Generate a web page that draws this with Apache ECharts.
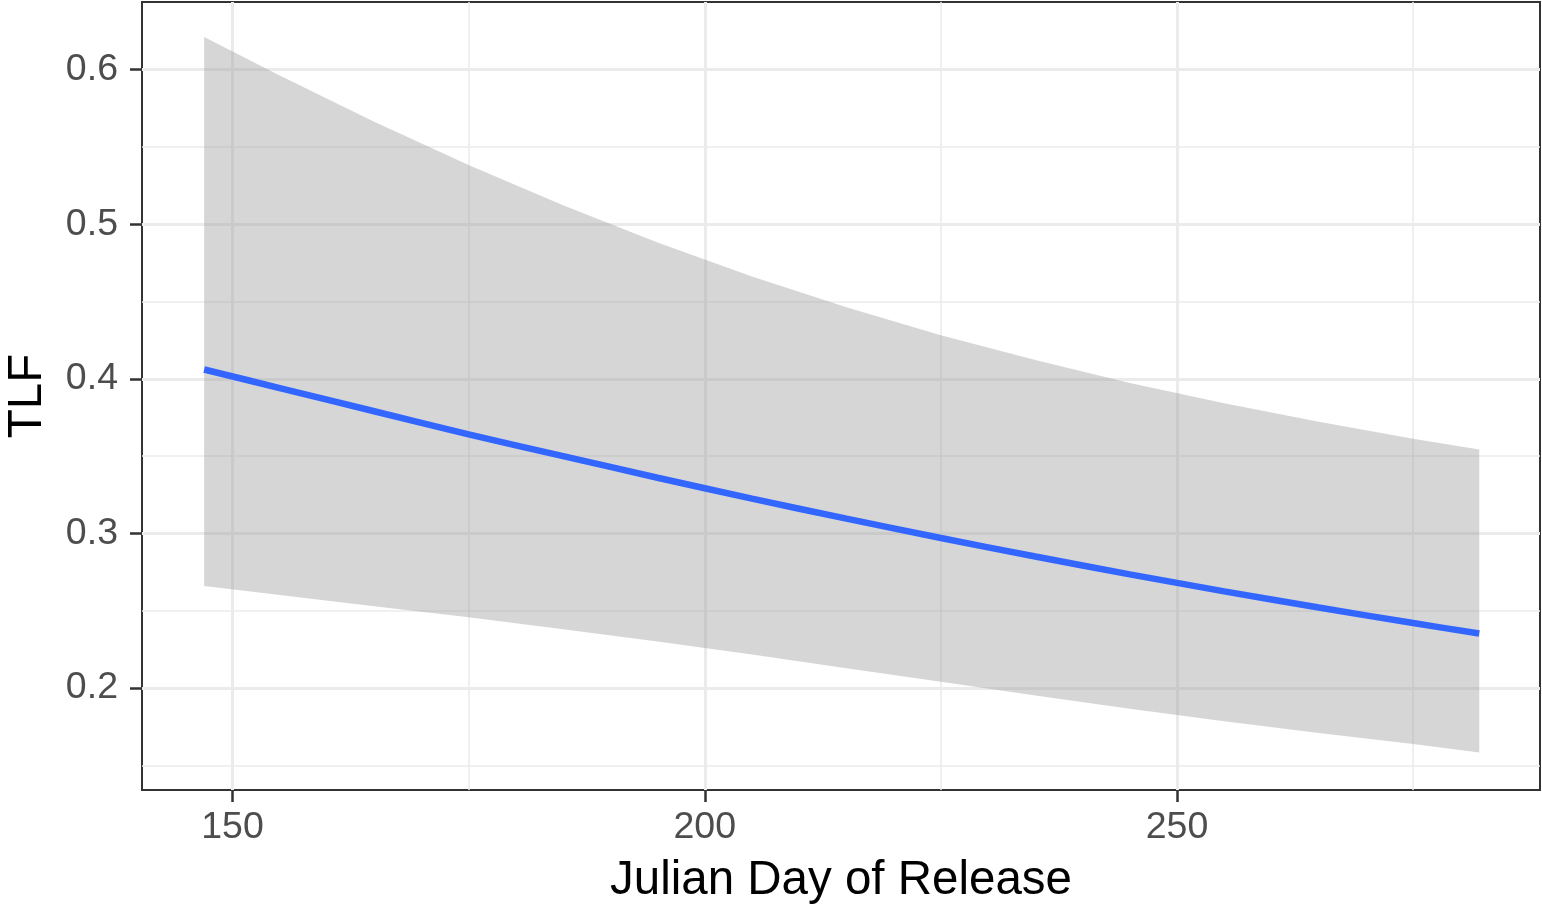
<!DOCTYPE html>
<html>
<head>
<meta charset="utf-8">
<script src="https://cdn.jsdelivr.net/npm/echarts@6/dist/echarts.min.js"></script>
<style>
html,body{margin:0;padding:0;background:#fff;}
#chart{width:1542px;height:907px;}
</style>
</head>
<body>
<div id="chart"></div>
<script>
// Julian day values where the fit and band were read
const days = [147, 155, 165, 175, 185, 195, 205, 215, 225, 235, 245, 255, 265, 275, 282];
// Fitted TLF (blue line)
const fitTLF = [0.406, 0.394, 0.379, 0.364, 0.350, 0.336, 0.3225, 0.3095, 0.297, 0.285, 0.2735, 0.2625, 0.252, 0.242, 0.2352];
// Confidence band upper and lower bounds
const upperTLF = [0.621, 0.5962, 0.5662, 0.5382, 0.5122, 0.4882, 0.4662, 0.4462, 0.4282, 0.4122, 0.3972, 0.3842, 0.3722, 0.3612, 0.3542];
const lowerTLF = [0.266, 0.2602, 0.2528, 0.2457, 0.2380, 0.2300, 0.2216, 0.2128, 0.2040, 0.1952, 0.1866, 0.1784, 0.1709, 0.1638, 0.1582];
// Tick values
const xMajorTicks = [150, 200, 250];
const xMinorTicks = [175, 225, 275];
const yMajorTicks = [0.2, 0.3, 0.4, 0.5, 0.6];
const yMinorTicks = [0.15, 0.25, 0.35, 0.45, 0.55];

const X_MIN = 140.42, X_MAX = 288.43;
const Y_MIN = 0.134, Y_MAX = 0.6437;

const chart = echarts.init(document.getElementById('chart'), null, {renderer: 'canvas'});
const FONT = '"Liberation Sans", Arial, Helvetica, sans-serif';
const gridColor = '#ebebeb';

const option = {
  animation: false,
  backgroundColor: '#ffffff',
  grid: {
    left: 142, right: 2, top: 2, bottom: 117,
    outerBoundsMode: 'none',
    containLabel: false,
    show: true, borderColor: '#333333', borderWidth: 2, backgroundColor: 'transparent'
  },
  xAxis: [
    {
      type: 'value', min: X_MIN, max: X_MAX, position: 'bottom',
      axisLine: {show: false},
      axisTick: {show: true, customValues: xMajorTicks, length: 12, lineStyle: {color: '#333333', width: 2.5}},
      axisLabel: {show: true, customValues: xMajorTicks, margin: 19, color: '#4d4d4d', fontSize: 37.5, fontFamily: FONT},
      splitLine: {show: true, lineStyle: {color: gridColor, width: 3}},
      name: 'Julian Day of Release', nameLocation: 'middle', nameGap: 67,
      nameTextStyle: {color: '#000000', fontSize: 47.5, fontFamily: FONT}
    },
    {
      type: 'value', min: X_MIN, max: X_MAX, position: 'top',
      axisLine: {show: false},
      axisTick: {show: false, customValues: xMinorTicks},
      axisLabel: {show: false, customValues: xMinorTicks},
      splitLine: {show: true, lineStyle: {color: gridColor, width: 1.6}}
    }
  ],
  yAxis: [
    {
      type: 'value', min: Y_MIN, max: Y_MAX, position: 'left',
      axisLine: {show: false},
      axisTick: {show: true, customValues: yMajorTicks, length: 12, lineStyle: {color: '#333333', width: 2.5}},
      axisLabel: {show: true, customValues: yMajorTicks, margin: 24, color: '#4d4d4d', fontSize: 37.5, fontFamily: FONT,
        formatter: v => v.toFixed(1)},
      splitLine: {show: true, lineStyle: {color: gridColor, width: 3}},
      name: 'TLF', nameLocation: 'middle', nameGap: 90, nameRotate: 90,
      nameTextStyle: {color: '#000000', fontSize: 47.5, fontFamily: FONT}
    },
    {
      type: 'value', min: Y_MIN, max: Y_MAX, position: 'right',
      axisLine: {show: false},
      axisTick: {show: false, customValues: yMinorTicks},
      axisLabel: {show: false, customValues: yMinorTicks},
      splitLine: {show: true, lineStyle: {color: gridColor, width: 1.6}}
    }
  ],
  series: [
    {
      type: 'custom',
      xAxisIndex: 0, yAxisIndex: 0,
      z: 2,
      silent: true,
      data: days.map((d, i) => [d, upperTLF[i], lowerTLF[i]]),
      encode: {x: 0, y: [1, 2]},
      renderItem: function (params, api) {
        if (params.dataIndex !== 0) return null;
        const pts = [];
        for (let i = 0; i < days.length; i++) pts.push(api.coord([days[i], upperTLF[i]]));
        for (let i = days.length - 1; i >= 0; i--) pts.push(api.coord([days[i], lowerTLF[i]]));
        return {type: 'polygon', shape: {points: pts}, style: {fill: 'rgba(153,153,153,0.4)', stroke: null}};
      }
    },
    {
      type: 'line',
      xAxisIndex: 0, yAxisIndex: 0,
      z: 3,
      data: days.map((d, i) => [d, fitTLF[i]]),
      smooth: 0.3,
      showSymbol: false,
      symbol: 'none',
      lineStyle: {color: '#3366FF', width: 6.5, cap: 'butt'}
    }
  ]
};
chart.setOption(option);
</script>
</body>
</html>
